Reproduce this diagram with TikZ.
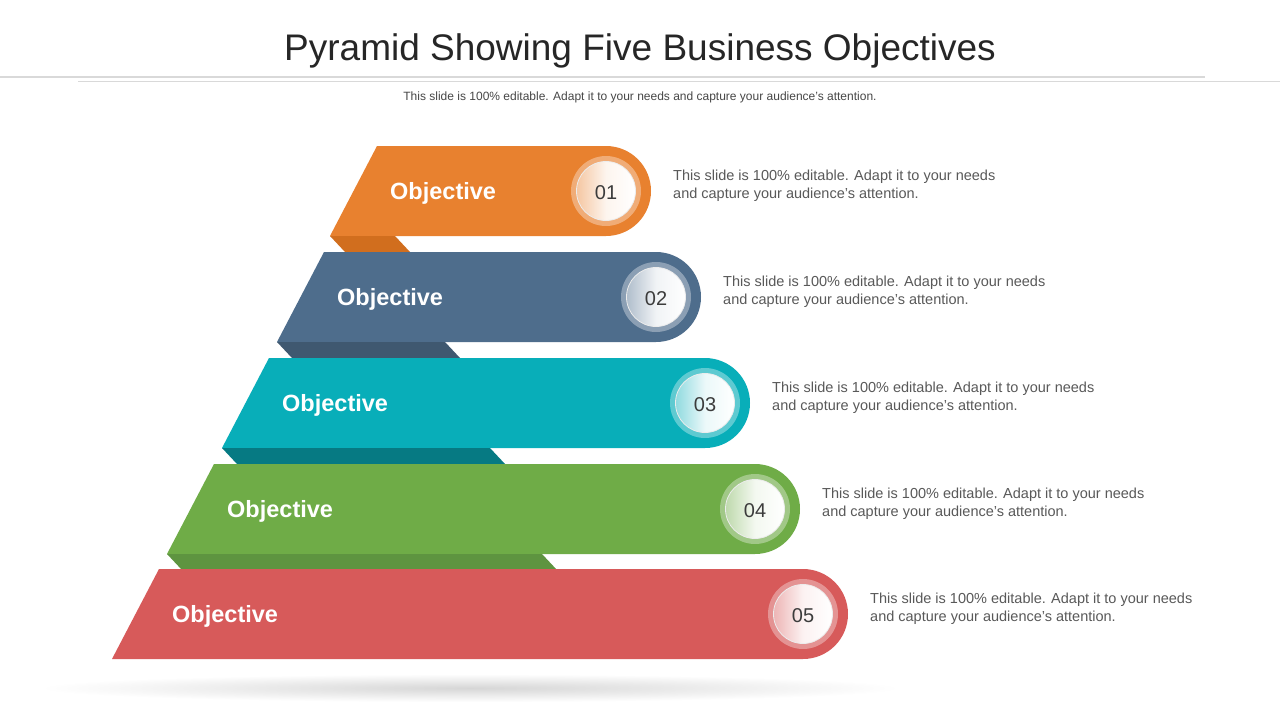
\documentclass[tikz,border=0pt]{standalone}
\usepackage{fontspec}
\setmainfont{Liberation Sans}
\definecolor{cO}{HTML}{E8812F}\definecolor{cOd}{HTML}{D16E1E}
\definecolor{cB}{HTML}{4E6D8C}\definecolor{cBd}{HTML}{3F5870}
\definecolor{cT}{HTML}{08AEB9}\definecolor{cTd}{HTML}{067A83}
\definecolor{cG}{HTML}{6FAC47}\definecolor{cGd}{HTML}{5E9440}
\definecolor{cR}{HTML}{D75A5A}\definecolor{cRd}{HTML}{B84A4A}
\definecolor{txt}{HTML}{595959}
\definecolor{ttl}{HTML}{262626}
\definecolor{rule}{HTML}{D9D9D9}
\tikzset{
  objtext/.style={anchor=west,text=white,font=\fontsize{23.5}{28}\selectfont\bfseries,inner sep=0pt},
  numtext/.style={text=ttl!90,font=\fontsize{20}{24}\selectfont,inner sep=0pt},
  desctext/.style={anchor=west,text=txt,font=\fontsize{14.5}{18}\selectfont,align=left,inner sep=0pt},
}
\begin{document}
\begin{tikzpicture}[x=1pt,y=-1pt]
\useasboundingbox (0,0) rectangle (1280,720);
\fill[white] (0,0) rectangle (1280,720);
% bottom shadow
\shade[inner color=black!16,outer color=white] (470,688) ellipse[x radius=430,y radius=14];
% rules
\draw[rule,line width=1.2pt] (0,77) -- (1205,77);
\draw[rule,line width=1.2pt] (78,81.5) -- (1280,81.5);
% title
\node[text=ttl,font=\fontsize{37}{42}\selectfont,inner sep=0pt] (title) at (640,51) {Pyramid Showing Five Business Objectives};
\node[text=ttl!85,font=\fontsize{12}{14}\selectfont,inner sep=0pt] (sub) at (640,97) {This slide is 100\% editable. Adapt it to your needs and capture your audience's attention.};
% bands
\foreach \n/\t/\l/\r/\f/\col/\dk in {1/146/330/651/395/cO/cOd,2/252/277/701/445/cB/cBd,3/358/222/750/490/cT/cTd,4/464/167/800/542/cG/cGd,5/569/112/848/0/cR/cRd}{
  \pgfmathsetmacro\b{\t+90}
  \pgfmathsetmacro\cx{\r-45}
  \pgfmathsetmacro\tl{\l+47}
  \pgfmathsetmacro\m{\t+45}
  \fill[\col] (\tl,\t) -- (\cx,\t) arc[start angle=-90,end angle=90,radius=45] -- (\l,\b) -- cycle;
  \ifnum\n<5
    \fill[\dk] (\l,\b) -- (\f,\b) -- ({\f+15},{\b+16}) -- ({\l+15},{\b+16}) -- cycle;
  \fi
  \fill[white,opacity=0.35] (\cx,\m) circle[radius=35];
  \shade[left color=\col!45!white,right color=white,middle color=white!92!\col] (\cx,\m) circle[radius=29.5];
  \draw[white!85!gray,line width=0.8pt] (\cx,\m) circle[radius=29.5];
  \node[numtext] (num\n) at (\cx,{\m+2}) {0\n};
  \node[objtext] (obj\n) at ({\l+60},{\m+2.5}) {Objective};
  \node[desctext] (desc\n) at ({\r+22},{\m-5}) {This slide is 100\% editable. Adapt it to your needs\\and capture your audience's attention.};
}
\end{tikzpicture}
\end{document}
